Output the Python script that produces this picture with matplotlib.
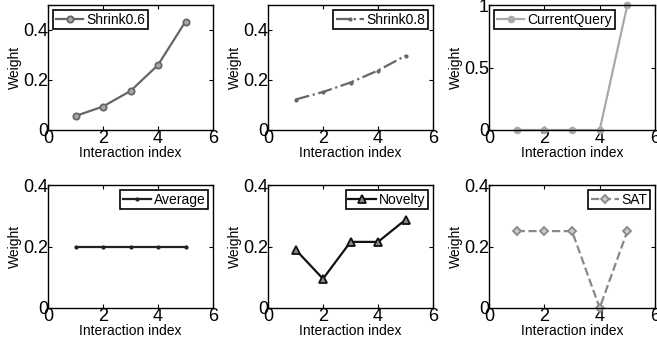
import matplotlib
matplotlib.use('Agg')
import matplotlib.pyplot as plt

plt.rcParams['font.family'] = ['Liberation Sans', 'DejaVu Sans']

idx = [1, 2, 3, 4, 5]
shrink06 = [0.056, 0.094, 0.156, 0.260, 0.434]
shrink08 = [0.122, 0.152, 0.190, 0.238, 0.297]
current = [0, 0, 0, 0, 1]
average = [0.2, 0.2, 0.2, 0.2, 0.2]
novelty = [0.19, 0.095, 0.215, 0.215, 0.287]
sat = [0.25, 0.25, 0.25, 0.0, 0.25]

fig = plt.figure(figsize=(6.57, 3.44), dpi=100)
W, H = 657, 344

def mk_ax(x0, y0, x1, y1):
    return fig.add_axes([x0 / W, 1 - y1 / H, (x1 - x0) / W, (y1 - y0) / H])

panels = [
    (48, 5, 213, 130, shrink06, dict(color='#666666', ls='-', marker='o', ms=4.5, mfc='#aaaaaa', mew=1.3, lw=1.6), 'Shrink0.6', (0, 0.5), [0, 0.2, 0.4], ['0', '0.2', '0.4'], 'upper left'),
    (268, 5, 433, 130, shrink08, dict(color='#666666', ls='-.', marker='.', ms=4, lw=1.6), 'Shrink0.8', (0, 0.5), [0, 0.2, 0.4], ['0', '0.2', '0.4'], 'upper right'),
    (489, 5, 655, 130, current, dict(color='#aaaaaa', ls='-', marker='o', ms=4.5, lw=1.6), 'CurrentQuery', (0, 1), [0, 0.5, 1], ['0', '0.5', '1'], 'upper left'),
    (48, 185, 213, 308, average, dict(color='#222222', ls='-', marker='.', ms=4, lw=1.6), 'Average', (0, 0.4), [0, 0.2, 0.4], ['0', '0.2', '0.4'], 'upper right'),
    (268, 185, 433, 308, novelty, dict(color='#111111', ls='-', marker='^', ms=5.5, mfc='#888888', mew=1.3, lw=1.6), 'Novelty', (0, 0.4), [0, 0.2, 0.4], ['0', '0.2', '0.4'], 'upper right'),
    (489, 185, 655, 308, sat, dict(color='#888888', ls='--', marker='D', ms=4, mfc='#cccccc', mew=1.3, lw=1.6), 'SAT', (0, 0.4), [0, 0.2, 0.4], ['0', '0.2', '0.4'], 'upper right'),
]

for x0, y0, x1, y1, vals, style, name, ylim, yt, ytl, loc in panels:
    ax = mk_ax(x0, y0, x1, y1)
    ax.plot(idx, vals, label=name, clip_on=False, **style)
    ax.set_xlim(0, 6)
    ax.set_ylim(*ylim)
    ax.set_xticks([0, 2, 4, 6])
    ax.set_xticklabels(['0', '2', '4', '6'])
    ax.set_yticks(yt)
    ax.set_yticklabels(ytl)
    ax.tick_params(direction='in', top=True, right=True, length=3, labelsize=13, pad=0)
    ax.set_xlabel('Interaction index', fontsize=10, labelpad=-1)
    ax.set_ylabel('Weight', fontsize=10, labelpad=1)
    for s in ax.spines.values():
        s.set_linewidth(1.0)
    leg = ax.legend(loc=loc, fontsize=10, fancybox=False, framealpha=1,
                    edgecolor='black', handlelength=2.0, handletextpad=0.2,
                    borderpad=0.2, borderaxespad=0.35)
    leg.get_frame().set_linewidth(1.2)

plt.savefig('out.png', dpi=100)
